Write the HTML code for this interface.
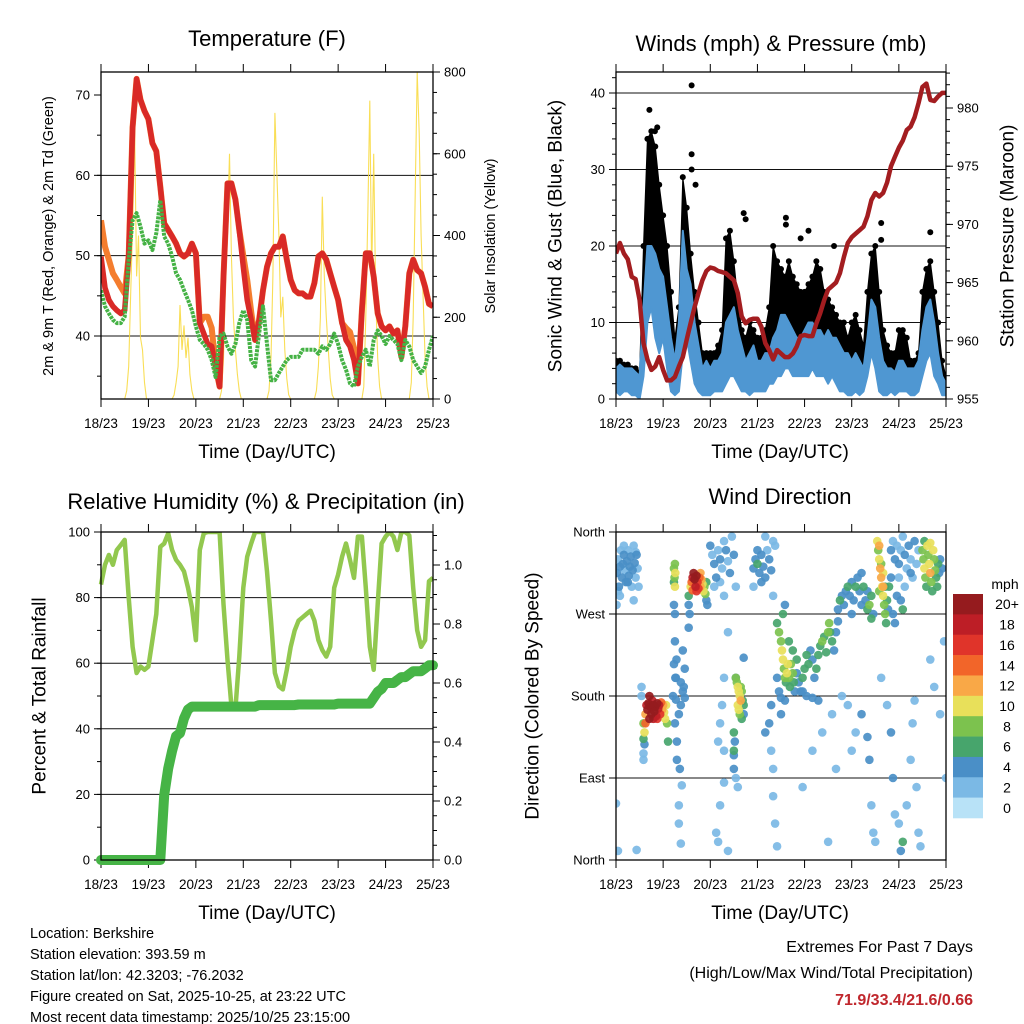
<!DOCTYPE html>
<html><head><meta charset="utf-8">
<style>
html,body{margin:0;padding:0;background:#fff;}
svg{display:block;font-family:"Liberation Sans",Arial,sans-serif;}
</style></head>
<body>
<svg id="fig" width="1024" height="1024" viewBox="0 0 1024 1024"></svg>
<script>
// ---------- DATA ----------
const dayLabels = ["18/23","19/23","20/23","21/23","22/23","23/23","24/23","25/23"];
const hours2 = Array.from({length:85},(_,i)=>i*2);
const hours1 = Array.from({length:169},(_,i)=>i);

const tempRed = [49.9,46,44.5,43.7,43.2,42.8,43.2,50,66,72,
69.4,68,67,64,63,58.6,54,53.2,52.4,51.5,
50.3,49.9,50.3,51.5,50.3,41.6,40.3,39,38.7,36.2,
33.7,47.4,59,59,57,53.2,48.6,44.5,42,39.5,
42,45.7,48.6,50.3,51.1,51.1,52.4,49.5,47,45.7,
45.3,45.3,44.9,44.9,46.6,49.9,50.3,49.5,47.8,46.1,
44.5,41.6,39.5,38.7,37,34.1,43.2,50.3,50.3,47.4,
42.8,41.2,40.7,41.2,40.3,40.7,37.4,41.2,47.8,49.5,
48.2,47.8,46.1,44,43.7];
const tempOrange = [54.4,51.1,49.5,47.8,47,46.1,45.3,50,66,72,
69.4,68,67,64,63,58.6,54,53.2,52.4,51.5,
50.3,49.9,50.3,51.5,50.3,41.6,42.4,42.4,41,36.2,
33.7,47.4,59,59,57,53.2,50,47,43,39.5,
42,45.7,48.6,50.3,51.1,51.1,52.4,49.5,47,45.7,
45.3,45.3,44.9,44.9,46.6,49.9,50.3,49.5,47.8,46.1,
44.5,41.6,41,40.5,38.5,34.1,43.2,50.3,50.3,47.4,
42.8,41.2,40.7,41.2,40.3,40.7,37.4,41.2,47.8,49.5,
48.2,47.8,46.1,44,43.7];
const dewGreen = [45.7,43.7,42.8,42,41.6,41.6,42.4,49.5,54.4,55.3,
53.6,51.5,51.9,50.7,52.8,56.9,52.4,51.5,49.9,47.8,
47,45.7,44.5,43.2,41.2,39.5,39,38.3,37,34.9,
40,40.3,38.7,37.8,39,41.6,43.2,42,37,36.2,
40.3,43.7,39,34.5,34.5,35.4,36.2,37,37.4,37.4,
37.4,38.3,38.3,38.3,38.3,37.8,38.7,38.3,39,40.3,
39,37,35.8,34.1,33.7,36.2,37.4,38.3,36.2,39.5,
40.7,40,39,40,39.5,39,37,39.5,38.7,37,
36.2,35.4,36.2,38.3,40];
const solar = [
0,0,0,0,0,0,0,0,0,0,0,0,0,20,80,250,420,660,300,400,150,120,40,0,
0,0,0,0,0,0,0,0,0,0,0,0,0,10,40,80,230,120,180,100,150,60,20,0,
0,0,0,0,0,0,0,0,0,0,0,0,0,20,100,300,420,600,350,200,120,60,20,0,
0,0,0,0,0,0,0,0,0,0,0,0,0,20,100,300,700,550,400,200,250,120,50,10,
0,0,0,0,0,0,0,0,0,0,0,0,0,20,80,200,495,300,200,120,50,10,0,0,
0,0,0,0,0,0,0,0,0,0,0,0,0,30,200,450,730,300,600,250,100,30,0,0,
0,0,0,0,0,0,0,0,0,0,0,0,0,40,200,500,800,650,400,250,100,30,0,0,
0];

const pressure = [967.5,968.4,967.5,967,965.5,965.3,963.5,959.8,958.4,957.5,
957.8,958.6,957.5,956.6,956.6,956.9,957.8,958.6,960.1,961.5,
962.9,964.1,965.2,966,966.3,966.2,966,965.9,965.8,965.5,
965.2,964.1,962.1,961.5,961.8,961.9,961.9,961.2,959.8,959.2,
958.4,959.2,958.9,958.6,958.6,958.9,959.5,960.4,960.5,960.4,
960.4,961.5,962.4,963.5,964.4,964.7,965,965.8,967.2,968.4,
968.9,969.2,969.5,969.8,970.7,972.1,972.7,972.4,972.7,973.6,
975,975.8,976.6,977.2,978.1,978.4,979.2,980.4,981.8,982.1,
980.7,980.6,981,981.3,981.3];
const windLow = [1,0.5,1,1,0.5,0.5,0,3,10,12,
8,6,8,4,1,0.5,1,6,8,5,
2,1,0.5,0.5,0.5,1,1,1,2,3,
3,2,1,1,0.5,1,1,1,1,2,
2,3,3,4,4,3,3,3,3,3,
4,3,3,3,2,3,2,1,1,0.5,
0.5,1,0.5,1,3,6,4,1,0.5,0.5,
1,0.5,1,1,1,0.5,0.5,1,3,5,
6,3,2,0.5,0.5];
const windHigh = [4,4.5,4,4,4,3.5,3,12,20,20,
19,17,16,12,8,5,10,22,17,15,
10,7,4,5,4,5,5,6,10,11,
12,9,7,5,6,7,5,5,6,6,
8,9,11,11,10,9,8,8,9,10,
10,9,9,8,9,8,8,7,6,6,
5,6,5,4,8,13,12,8,5,4,
4,3.5,5,5,4,4,4,5,9,12,
13,10,6,3,2];
const gustHigh = [5,5,4.5,4.5,4,4,3.5,20,34,35,
33,28,24,20,14,8,12,29,25,19,
14,10,6,6,6,6,7,9,21,22,
18,13,9,8,10,9,8,8,9,12,
20,18,17,16,18,16,15,14,14,15,
16,18,17,14,13,12,11,10,10,8,
10,11,9,7,14,19,20,14,9,7,
6,6,9,9,8,5,5,6,14,17,
18,14,10,5,3];
const gustOutlierHour = [17,21,19.8,38.5,38.5,38.5,40.5,65,66,86.5,86.5,98,94,111,135,135,160];
const gustOutlierMph  = [37.8,35.5,35,41,32,30,28,24.3,23.5,23.7,22.8,22,21,20,23,20.8,21.8];

const rh = [84,90,93,90,94.5,96,97.6,80,65,57,
59,58,59,67,75,95.5,96.5,99.6,94.5,91.5,
90,88,83,77,67,94.5,99.6,100,100,100,
100,78,61,47,46,62,83,92.5,96.5,100,
100,100,88,73,57,53,52,58,65,70,
73,74,75,76,73,67,64,62,65,83,
87,92.5,96.5,91.5,86,98.6,98.6,83,65,58,
78,96.5,98.6,100,98.6,94.5,100,100,99,83,
70,65,67,85,86];
const precip = [0,0,0,0,0,0,0,0,0,0,
0,0,0,0,0,0,0.22,0.31,0.37,0.42,
0.43,0.48,0.51,0.52,0.52,0.52,0.52,0.52,0.52,0.52,
0.52,0.52,0.52,0.52,0.52,0.52,0.52,0.52,0.52,0.52,
0.525,0.525,0.525,0.525,0.525,0.525,0.525,0.525,0.525,0.525,
0.527,0.527,0.527,0.527,0.527,0.527,0.527,0.527,0.527,0.527,
0.53,0.53,0.53,0.53,0.53,0.53,0.53,0.53,0.53,0.55,
0.57,0.58,0.6,0.6,0.6,0.61,0.62,0.62,0.63,0.64,
0.64,0.64,0.65,0.66,0.66];

// wind direction observations: [hour, direction deg, speed mph]
const windDirObs = [
[0.5,315,3],[1,330,2],[1.5,300,3],[2,322,3],[2.5,340,2],[3,310,3],[3.5,325,4],[4,335,3],[4.5,318,2],[5,305,3],[5.5,328,3],[6,340,2],[6.5,312,3],[7,322,4],[7.5,333,3],[8,300,2],[8.5,318,3],[9,345,2],[9.5,326,3],[10,310,2],[10.5,335,3],[11,320,2],[11.5,300,2],[2,290,2],[9,285,2],[0.3,280,2],[4,345,2],[1,295,2],[6,305,4],[10,338,2],[0,62,1],[1,10,1],[10.5,11,1],
[14,150,8],[14.5,140,10],[14,133,6],[14.5,127,3],[15,160,12],[15.5,170,17],[16,165,19],[16.5,172,20],[17,180,21],[17.5,168,20],[18,160,19],[18.5,175,18],[19,170,20],[19.5,163,20],[20,168,19],[20.5,158,18],[21,172,20],[21.5,166,18],[22,170,17],[22.5,160,15],[23,173,14],[23.5,165,12],[24,170,12],[24.5,162,10],[25,155,10],[25.5,170,9],[26,150,7],[26.5,130,6],[14,117,2],[14,110,2],[13,190,2],[13,180,2],[15,150,14],[17,155,19],[19,155,17],[21,155,16],
[29.5,320,7],[29.8,310,8],[30,300,10],[30.2,315,9],[29.5,305,6],[30,325,8],[29.5,280,3],[30,270,3],[30,240,3],[29.5,215,3],[30.2,200,3],[30.5,176,4],[29,180,3],[30,150,4],[31,130,3],[31,110,3],[30.5,200,4],[30.8,220,3],
[32,160,4],[33,170,4],[34,185,3],[34.5,190,3],[35,178,4],[33,195,4],[32.5,100,3],[33.5,82,2],[32,40,2],[33,18,2],[32,60,1],[34,230,3],[35,210,3],
[37,290,5],[37,280,4],[37.5,270,3],[37,255,3],[38,300,10],[38.5,305,14],[39,310,17],[39.5,315,20],[40,308,20],[40.5,300,18],[41,312,19],[41.5,305,16],[42,298,15],[42.5,310,14],[43,300,12],[43.5,308,11],[44,303,10],[44.5,295,9],[45,300,8],[45.5,292,7],[46,305,6],[46,285,4],[46.5,280,3],[39,296,14],[41,295,15],[43,315,12],
[48,345,3],[49,335,2],[50,325,3],[51,310,3],[52,340,2],[53,330,3],[54,320,2],[55,350,2],[56,340,3],[57,328,2],[58,315,3],[59,355,2],[60,335,3],[61,300,2],[50,300,2],[53,305,2],[55,290,2],[57,250,1],[55,200,1],[54,170,2],[53,150,2],[52,130,2],[55,120,2],[53,60,1],[55,85,1],[51,30,1],[57,10,1],[52,20,1],
[61,200,7],[61.5,195,8],[62,190,9],[62.5,185,10],[63,180,10],[63.5,175,12],[62,170,9],[62.5,165,10],[63,160,8],[63.5,190,7],[64,185,8],[64.5,175,6],[65,170,5],[65,160,4],[64,155,6],[60,140,5],[60.5,130,4],[60,115,3],[60,100,3],[61,90,2],[62,80,2],[61,200,4],[65,222,3],[60,120,5],
[70,320,4],[71,330,4],[72,325,5],[73,315,4],[74,335,4],[75,322,3],[76,310,3],[77,340,2],[78,330,3],[79,318,3],[80,350,2],[81,345,2],[72,340,3],[74,305,3],[76,355,2],[70,300,2],[80,290,2],
[76,140,3],[78,150,3],[79,120,2],[80,100,2],[80,70,2],[81,40,1],[82,15,1],[79,170,4],[82,200,4],[83,185,3],[84,160,3],
[82,260,6],[83,250,7],[84,240,8],[84.5,230,10],[85,220,9],[85.5,210,8],[86,200,7],[86.5,195,6],[87,205,9],[87.5,215,10],[88,200,7],[88.5,190,6],[89,215,8],[90,205,7],[90.5,195,5],[91,185,4],[92,205,4],[93,195,4],[94,185,3],[95,200,5],[96,210,6],[97,225,5],[98,215,6],[99,230,4],[100,220,4],[101,200,4],[102,210,5],[103,225,6],[104,235,6],[105,240,7],[106,245,5],[107,228,6],[108,250,7],[108.5,260,8],[109,250,6],[110,240,5],[111,230,4],[112,250,4],[113,262,4],[85,270,5],[86,280,4],[88,240,5],[90,230,6],[92,220,5],[95,185,4],[97,180,4],[100,178,4],[103,175,3],[86,175,4],[84,178,3],
[113,275,4],[114,285,5],[115,290,4],[116,280,3],[117,295,4],[118,300,5],[119,290,4],[120,305,4],[121,285,4],[122,300,5],[123,310,4],[124,295,3],[125,315,4],[126,300,5],[127,285,4],[128,275,6],[129,280,7],[130,290,5],[131,270,4],[130,265,6],[128,295,3],[125,280,3],[120,270,3],
[133,350,10],[133.5,340,8],[134,330,9],[134.5,320,11],[135,310,12],[135.5,300,10],[136,290,9],[136.5,280,8],[137,270,7],[137.5,260,6],[134,345,12],[135,325,8],[136,315,10],[137,300,6],[138,285,5],[138.5,275,4],[139,300,5],[140,310,4],[141,270,3],[142,260,3],[136,300,11],[134,295,7],
[140,340,3],[141,350,2],[142,330,3],[143,345,2],[144,325,3],[145,340,2],[146,355,2],[147,335,3],[148,320,2],[149,345,3],[150,330,2],[151,310,2],[152,350,3],[153,325,2],[154,340,2],[144,310,2],[147,300,2],[150,315,3],[143,290,4],[145,285,4],[146,275,5],
[156,340,7],[156.5,330,8],[157,320,9],[157.5,310,7],[158,300,6],[158.5,345,10],[159,335,8],[159.5,325,9],[160,315,11],[160.5,305,8],[161,295,6],[161.5,340,9],[162,330,7],[162.5,318,8],[163,310,6],[163.5,300,5],[164,325,5],[164.5,315,4],[165,330,4],[166,320,3],[157,350,5],[160,348,10],
[115,180,2],[118,170,2],[120,120,2],[122,140,2],[125,160,3],[128,135,3],[129,110,3],[130,60,1],[131,30,2],[132,20,1],[135,200,2],[138,170,2],[140,140,3],[141,90,3],[142,50,1],[144,40,2],[145,10,3],[146,20,5],[148,60,1],[150,110,2],[151,150,2],[152,175,2],[153,80,1],[154,30,2],[155,15,1],[160,220,2],[162,190,2],[165,160,2],[167,240,2],[168,90,1],[100,120,2],[95,80,2],[105,140,2],[110,160,2],[108,20,1],[112,100,2]
];
const speedColors = ["#b8e2f7","#7bb9e5","#4a8fc7","#47a56c","#7cc24e","#e8e05a","#f9a847","#f26529","#e0342a","#bd1e26","#951b1e"];
const speedLabels = ["0","2","4","6","8","10","12","14","16","18","20+"];

const tempTicks = [40,50,60,70];
const solarTicks = [0,200,400,600,800];
const windTicks = [0,10,20,30,40];
const presTicks = [955,960,965,970,975,980];
const rhTicks = [0,20,40,60,80,100];
const precipTicks = [0,0.2,0.4,0.6,0.8,1.0];
const dirTicks = [0,90,180,270,360];
const dirLabels = ["North","East","South","West","North"];

// ---------- DRAWING ----------
const NS="http://www.w3.org/2000/svg";
const svg=document.getElementById('fig');
function el(tag,attrs,parent){const e=document.createElementNS(NS,tag);for(const k in attrs)e.setAttribute(k,attrs[k]);(parent||svg).appendChild(e);return e;}
function txt(s,attrs,parent){const e=el('text',attrs,parent);e.textContent=s;return e;}
function lin(d0,d1,r0,r1){return v=>r0+(v-d0)/(d1-d0)*(r1-r0);}

function panel(name){
  const g=el('g',{});
  
  
  return g;
}
function frame(g,x0,x1,y0,y1){
  const r=el('rect',{x:x0,y:y0,width:x1-x0,height:y1-y0,fill:'none',stroke:'#000','stroke-width':1.3},g);
  
  
}
function xAxis(g,x0,x1,y0,y1,labY){
  const xs=lin(0,168,x0,x1);
  const ax=el('g',{},g);
  
  
  dayLabels.forEach((d,i)=>{
    const x=xs(i*24);
    el('line',{x1:x,x2:x,y1:y1,y2:y1+8,stroke:'#000','stroke-width':1},ax);
    el('line',{x1:x,x2:x,y1:y0,y2:y0-8,stroke:'#000','stroke-width':1},ax);
    const t=txt(d,{x:x,y:labY,'font-size':13.5,'text-anchor':'middle'},ax);
    
    
  });
  return xs;
}
function yTicks(g,ticks,labels,ys,xEdge,side,minorStep,d0,d1,grid,x0,x1,fs){
  const ax=el('g',{},g);
  
  
  if(minorStep){
    for(let v=d0;v<=d1+1e-9;v+=minorStep){
      const y=ys(v);
      el('line',{x1:xEdge,x2:xEdge+side*4,y1:y,y2:y,stroke:'#000','stroke-width':1},ax);
    }
  }
  ticks.forEach((v,i)=>{
    const y=ys(v);
    el('line',{x1:xEdge,x2:xEdge+side*7,y1:y,y2:y,stroke:'#000','stroke-width':1},ax);
    if(grid && y>ys(d1)+1 && y<ys(d0)-1){
      el('line',{x1:x0,x2:x1,y1:y,y2:y,stroke:'#111','stroke-width':1},g);
    }
    const t=txt(labels[i],{x:xEdge+side*11,y:y+4.5,'font-size':fs||13,'text-anchor':side<0?'end':'start'},ax);
    
    
  });
}
function path(xs,ys,X,Y){return X.map((h,i)=>(i?'L':'M')+xs(h).toFixed(1)+','+ys(Y[i]).toFixed(1)).join('');}
function title(s,x,y,size,name){const t=txt(s,{x:x,y:y,'font-size':size,'text-anchor':'middle'});return t;}
function vtitle(s,x,y,size,name){const t=txt(s,{x:x,y:y,'font-size':size,'text-anchor':'middle','dominant-baseline':'central',transform:`rotate(-90 ${x} ${y})`});return t;}

// ===== Panel 1: Temperature =====
(function(){
  const x0=101,x1=433,y0=72,y1=399;
  const g=panel('temperature-panel');
  const xs=xAxis(g,x0,x1,y0,y1,428);
  const yT=lin(40,70,336,95);
  const yS=lin(0,800,y1,y0);
  yTicks(g,tempTicks,tempTicks.map(String),yT,x0,-1,5,35,70,true,x0,x1);
  yTicks(g,solarTicks,solarTicks.map(String),yS,x1,1,50,0,800,false);
  const cp=el('clipPath',{id:'c1'});el('rect',{x:x0,y:y0,width:x1-x0,height:y1-y0},cp);
  const d=el('g',{'clip-path':'url(#c1)'},g);
  const s=el('path',{d:path(xs,yS,hours1,solar),fill:'none',stroke:'#f8d838','stroke-width':1.1,opacity:0.85},d);
  
  
  const o=el('path',{d:path(xs,yT,hours2,tempOrange),fill:'none',stroke:'#f47d2e','stroke-width':6,'stroke-linejoin':'round'},d);
  
  
  const r=el('path',{d:path(xs,yT,hours2,tempRed),fill:'none',stroke:'#d92a27','stroke-width':5.5,'stroke-linejoin':'round'},d);
  
  
  const gr=el('path',{d:path(xs,yT,hours2,dewGreen),fill:'none',stroke:'#45b245','stroke-width':4,'stroke-dasharray':'3 1','stroke-linejoin':'round'},d);
  
  
  frame(g,x0,x1,y0,y1);
})();
title('Temperature (F)',267,46,22,'temperature-title');
title('Time (Day/UTC)',267,458,19,'temperature-x-title');
vtitle('2m & 9m T (Red, Orange) & 2m Td (Green)',49,236,14.5,'temperature-y-title');
vtitle('Solar Insolation (Yellow)',491,236,14.5,'solar-y-title');

// ===== Panel 2: Winds & Pressure =====
(function(){
  const x0=616,x1=946,y0=72,y1=399;
  const g=panel('winds-panel');
  const xs=xAxis(g,x0,x1,y0,y1,428);
  const yW=lin(0,40,399,93);
  const yP=lin(955,980,399,108);
  yTicks(g,windTicks,windTicks.map(String),yW,x0,-1,2,0,42,true,x0,x1);
  yTicks(g,presTicks,presTicks.map(String),yP,x1,1,1,955,983,false);
  const cp=el('clipPath',{id:'c2'});el('rect',{x:x0,y:y0,width:x1-x0,height:y1-y0},cp);
  const d=el('g',{'clip-path':'url(#c2)'},g);
  let gp=hours2.map((h,i)=>(i?'L':'M')+xs(h).toFixed(1)+','+yW(gustHigh[i]).toFixed(1)).join('');
  for(let i=hours2.length-1;i>=0;i--) gp+='L'+xs(hours2[i]).toFixed(1)+','+yW(Math.max(0,windLow[i])).toFixed(1);
  const gb=el('path',{d:gp+'Z',fill:'#000',stroke:'#000','stroke-width':1,'stroke-linejoin':'round'},d);
  
  
  hours2.forEach((h,i)=>{
    const c=el('circle',{cx:xs(h),cy:yW(gustHigh[i]),r:3,fill:'#000'},d);
    
    
  });
  gustOutlierHour.forEach((h,i)=>{
    const c=el('circle',{cx:xs(h),cy:yW(gustOutlierMph[i]),r:3,fill:'#000'},d);
    
    
  });
  let wp=hours2.map((h,i)=>(i?'L':'M')+xs(h).toFixed(1)+','+yW(windHigh[i]).toFixed(1)).join('');
  for(let i=hours2.length-1;i>=0;i--) wp+='L'+xs(hours2[i]).toFixed(1)+','+yW(windLow[i]).toFixed(1);
  const wb=el('path',{d:wp+'Z',fill:'#4f97d2',stroke:'#4f97d2','stroke-width':2,'stroke-linejoin':'round'},d);
  
  
  const p=el('path',{d:path(xs,yP,hours2,pressure),fill:'none',stroke:'#a31d20','stroke-width':4.5,'stroke-linejoin':'round'},d);
  
  
  frame(g,x0,x1,y0,y1);
})();
title('Winds (mph) & Pressure (mb)',781,51,22,'winds-title');
title('Time (Day/UTC)',780,458,19,'winds-x-title');
vtitle('Sonic Wind & Gust (Blue, Black)',556,236,19,'winds-y-title');
vtitle('Station Pressure (Maroon)',1008,236,19,'pressure-y-title');

// ===== Panel 3: RH & Precip =====
(function(){
  const x0=101,x1=433,y0=532,y1=860;
  const g=panel('humidity-panel');
  const xs=xAxis(g,x0,x1,y0,y1,889);
  const yR=lin(0,100,860,532);
  const yPr=lin(0,1,860,565);
  yTicks(g,rhTicks,rhTicks.map(String),yR,x0,-1,10,0,100,true,x0,x1);
  yTicks(g,precipTicks,precipTicks.map(v=>v.toFixed(1)),yPr,x1,1,0.05,0,1.1,false);
  const cp=el('clipPath',{id:'c3'});el('rect',{x:x0-6,y:y0,width:x1-x0+12,height:y1-y0+6},cp);
  const d=el('g',{'clip-path':'url(#c3)'},g);
  const a=el('path',{d:path(xs,yR,hours2,rh),fill:'none',stroke:'#92c84f','stroke-width':4.5,'stroke-linejoin':'round'},d);
  
  
  const b=el('path',{d:path(xs,yPr,hours2,precip),fill:'none',stroke:'#46b446','stroke-width':10,'stroke-linejoin':'round','stroke-linecap':'round'},d);
  
  
  frame(g,x0,x1,y0,y1);
})();
title('Relative Humidity (%) & Precipitation (in)',266,509,22,'humidity-title');
title('Time (Day/UTC)',267,919,19,'humidity-x-title');
vtitle('Percent & Total Rainfall',40,696,19,'humidity-y-title');

// ===== Panel 4: Wind direction =====
(function(){
  const x0=616,x1=946,y0=532,y1=860;
  const g=panel('wind-direction-panel');
  const xs=xAxis(g,x0,x1,y0,y1,889);
  const yD=lin(0,360,860,532);
  yTicks(g,dirTicks,dirLabels,yD,x0,-1,null,0,360,true,x0,x1);
  const cp=el('clipPath',{id:'c4'});el('rect',{x:x0,y:y0,width:x1-x0,height:y1-y0},cp);
  const d=el('g',{'clip-path':'url(#c4)'},g);
  const sorted=windDirObs.slice().sort((a,b)=>a[2]-b[2]);
  sorted.forEach(o=>{
    const ci=Math.min(10,Math.round(o[2]/2));
    const c=el('circle',{cx:xs(o[0]),cy:yD(o[1]),r:4.3,fill:speedColors[ci],opacity:0.92},d);
    
    
  });
  frame(g,x0,x1,y0,y1);
  const cb=el('g',{});
  
  
  const top=594,bh=(818-594)/11;
  txt('mph',{x:1005,y:589,'font-size':14,'text-anchor':'middle'},cb);
  for(let k=10;k>=0;k--){
    const yy=top+(10-k)*bh;
    const r=el('rect',{x:953,y:yy,width:30,height:bh+0.3,fill:speedColors[k]},cb);
    
    
    txt(speedLabels[k],{x:1007,y:yy+bh/2+5,'font-size':14,'text-anchor':'middle'},cb);
  }
})();
title('Wind Direction',780,504,22,'wind-direction-title');
title('Time (Day/UTC)',780,919,19,'wind-direction-x-title');
vtitle('Direction (Colored By Speed)',533,696,19,'wind-direction-y-title');

// ===== Footer text =====
const info=["Location: Berkshire","Station elevation: 393.59 m","Station lat/lon: 42.3203; -76.2032","Figure created on Sat, 2025-10-25, at 23:22 UTC","Most recent data timestamp: 2025/10/25 23:15:00"];
info.forEach((s,i)=>{
  const t=txt(s,{x:30,y:938+i*21,'font-size':14.5});
  
  
});
const e1=txt('Extremes For Past 7 Days',{x:973,y:952,'font-size':16,'text-anchor':'end'});


const e2=txt('(High/Low/Max Wind/Total Precipitation)',{x:973,y:978,'font-size':16,'text-anchor':'end'});


const e3=txt('71.9/33.4/21.6/0.66',{x:973,y:1005,'font-size':16,'font-weight':'bold',fill:'#c0272d','text-anchor':'end'});


</script>
</body></html>
